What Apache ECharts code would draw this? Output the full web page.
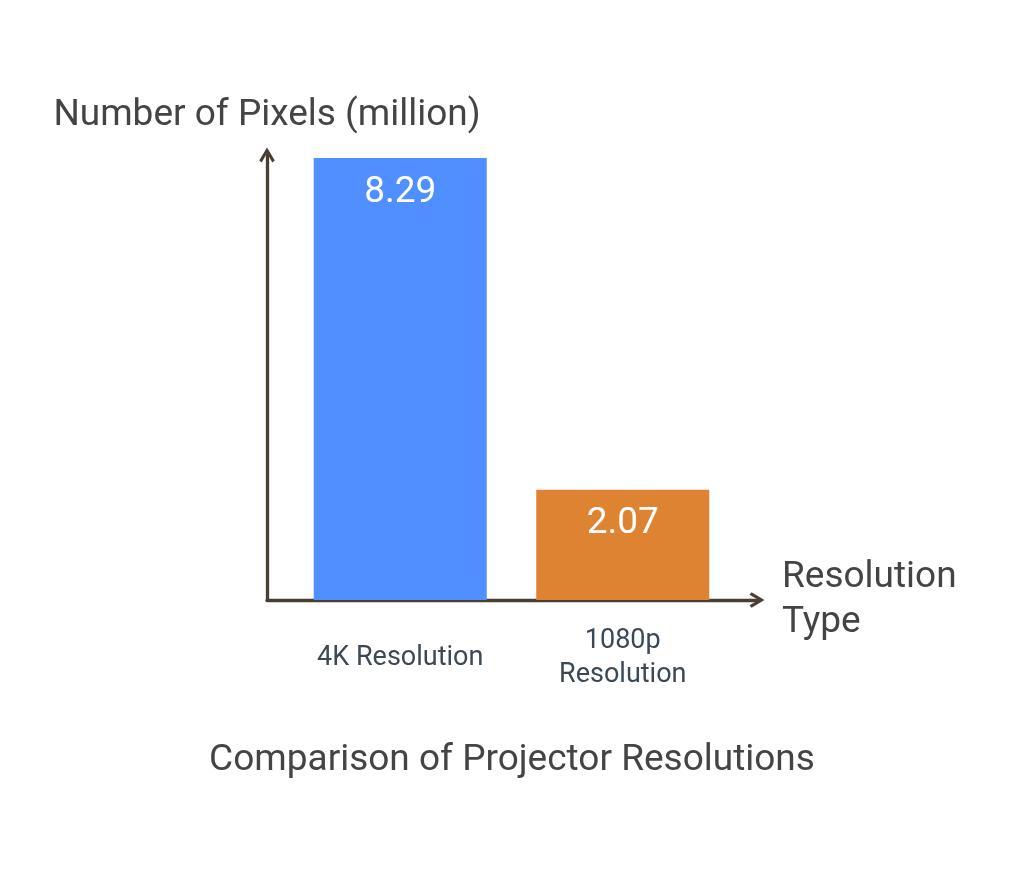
<!DOCTYPE html>
<html>
<head>
<meta charset="utf-8"/>
<title>Comparison of Projector Resolutions</title>
<script src="https://cdn.jsdelivr.net/npm/echarts@6/dist/echarts.min.js"></script>
<style>
html,body{margin:0;padding:0;background:#fff}
#main{width:1024px;height:869px}
</style>
</head>
<body>
<div id="main"></div>
<script>
// data
var categories = ['4K Resolution', '1080p\nResolution'];
var pixels = [8.29, 2.07];
var barColors = ['#4f8fff', '#dd8332'];

var axisColor = '#4a3e33';
// open chevron arrow, pointing up
var chevron = 'path://M5,0 L10,8.3 L8.4,9.6 L5,3.7 L1.6,9.6 L0,8.3 Z';

var myChart = echarts.init(document.getElementById('main'));

var option = {
    backgroundColor: '#fff',
    animation: false,
    title: {
        text: 'Comparison of Projector Resolutions',
        left: 'center',
        top: 737,
        textStyle: {fontFamily: 'Roboto', fontSize: 37, fontWeight: 'normal', color: '#444'}
    },
    grid: [
        // grid for the arrowed axes
        {left: 267, top: 155, width: 490, height: 445},
        // grid for the bars
        {left: 289, top: 158, width: 445, height: 442}
    ],
    xAxis: [
        {
            gridIndex: 0, type: 'value', min: 0, max: 1,
            name: 'Resolution\nType', nameLocation: 'end', nameGap: 25,
            nameTextStyle: {fontFamily: 'Roboto', fontSize: 37, color: '#444', lineHeight: 45, align: 'left', verticalAlign: 'middle', padding: [6, 0, 0, 0]},
            axisLine: {show: true, lineStyle: {color: axisColor, width: 3.3}, symbol: ['none', chevron], symbolSize: [24, 15]},
            axisTick: {show: false}, axisLabel: {show: false}, splitLine: {show: false}
        },
        {
            gridIndex: 1, type: 'category', data: categories,
            axisLine: {show: false}, axisTick: {show: false},
            axisLabel: {fontFamily: 'Roboto', fontSize: 27, color: '#3b4856', lineHeight: 34, margin: 58, verticalAlign: 'middle'}
        }
    ],
    yAxis: [
        {
            gridIndex: 0, type: 'value', min: 0, max: 1,
            name: 'Number of Pixels (million)', nameLocation: 'end', nameGap: 21,
            nameTextStyle: {fontFamily: 'Roboto', fontSize: 37, color: '#444'},
            axisLine: {show: true, lineStyle: {color: axisColor, width: 3.3}, symbol: ['none', chevron], symbolSize: [24, 15]},
            axisTick: {show: false}, axisLabel: {show: false}, splitLine: {show: false}
        },
        {
            gridIndex: 1, type: 'value', min: 0, max: 8.29, show: false
        }
    ],
    series: [{
        type: 'bar',
        xAxisIndex: 1,
        yAxisIndex: 1,
        barWidth: 173,
        data: pixels.map(function (v, i) {
            return {value: v, itemStyle: {color: barColors[i]}};
        }),
        label: {
            show: true, position: 'insideTop', distance: 16,
            fontFamily: 'Roboto', fontSize: 37, color: '#fff',
            formatter: function (p) { return p.value.toFixed(2); }
        }
    }]
};

myChart.setOption(option);
</script>
</body>
</html>
